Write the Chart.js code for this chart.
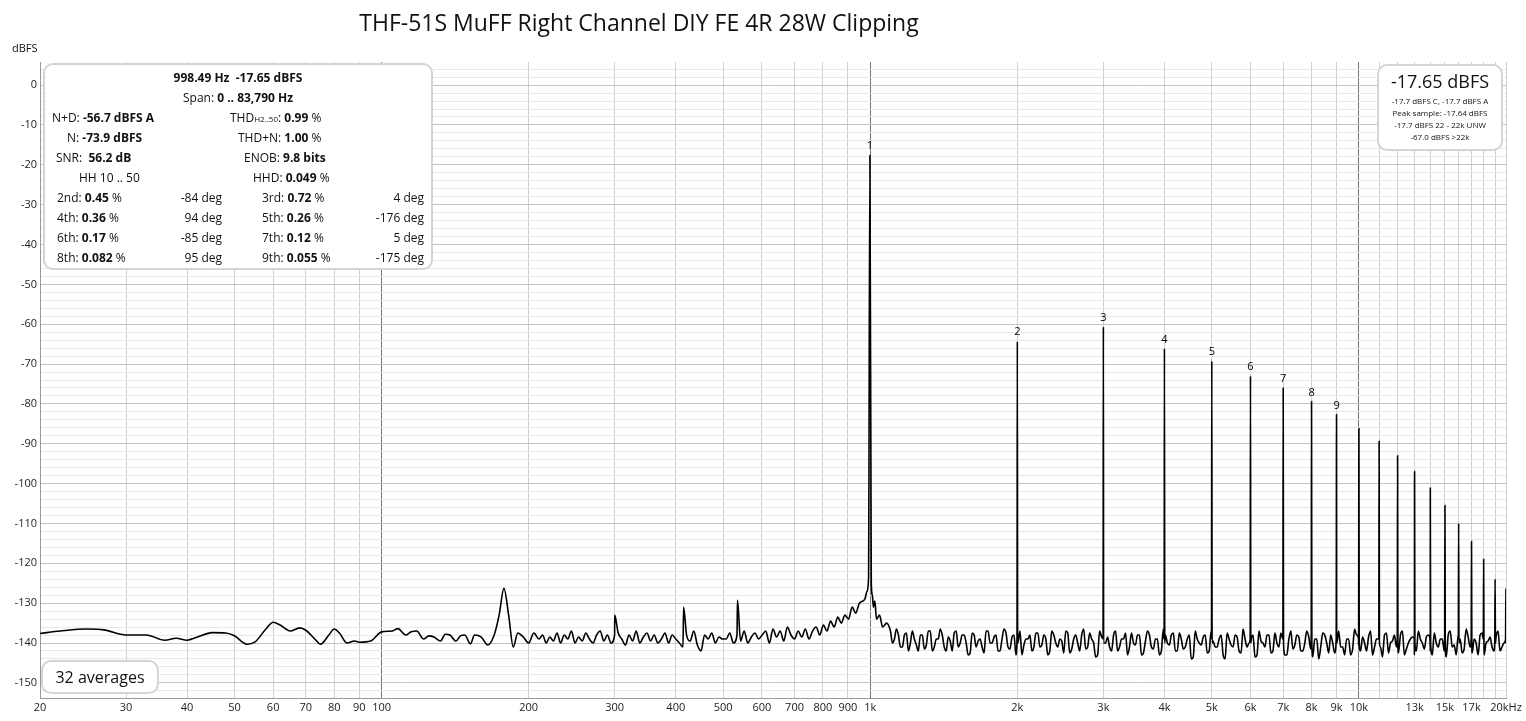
<!DOCTYPE html>
<html>
<head>
<meta charset="utf-8">
<script src="https://cdn.jsdelivr.net/npm/chart.js@4/dist/chart.umd.min.js"></script>
<style>
  body { margin: 0; background: #fff; font-family: "Open Sans", "Noto Sans", sans-serif; color: #111; }
  #wrap { position: relative; width: 1526px; height: 721px; }
  canvas { position: absolute; left: 0; top: 0; }
  .t { position: absolute; white-space: nowrap; font-size: 12px; line-height: 14px; }
  .box { position: absolute; background: #fff; border: 2px solid #d4d4d4; border-radius: 10px; }
  b { font-weight: 700; }
</style>
</head>
<body>
<div id="wrap">
  <canvas id="grafico" width="1526" height="721"></canvas>
  <div class="t" style="left:0;width:1278px;text-align:center;top:7px;font-size:23px;line-height:30px;">THF-51S MuFF Right Channel DIY FE 4R 28W Clipping</div>
  <div class="t" style="left:12px;top:41px;font-size:11px;">dBFS</div>

  <div class="box" style="left:43px;top:63px;width:386px;height:203px;">
    <div class="t" style="left:0;width:386px;text-align:center;top:6px;"><b>998.49 Hz&nbsp; -17.65 dBFS</b></div>
    <div class="t" style="left:0;width:386px;text-align:center;top:26px;">Span: <b>0 .. 83,790 Hz</b></div>
    <div class="t" style="left:7px;top:46px;">N+D: <b>-56.7 dBFS A</b></div>
    <div class="t" style="left:185px;top:46px;">THD<span style="font-size:8px">H2..50</span>: <b>0.99</b> %</div>
    <div class="t" style="left:22px;top:66px;">N: <b>-73.9 dBFS</b></div>
    <div class="t" style="left:193px;top:66px;">THD+N: <b>1.00</b> %</div>
    <div class="t" style="left:11px;top:86px;">SNR:&nbsp; <b>56.2 dB</b></div>
    <div class="t" style="left:199px;top:86px;">ENOB: <b>9.8 bits</b></div>
    <div class="t" style="left:34px;top:106px;">HH 10 .. 50</div>
    <div class="t" style="left:208px;top:106px;">HHD: <b>0.049</b> %</div>
    <div class="t" style="left:12px;top:126px;">2nd: <b>0.45</b> %</div>
    <div class="t" style="left:100px;width:77px;text-align:right;top:126px;">-84 deg</div>
    <div class="t" style="left:217px;top:126px;">3rd: <b>0.72</b> %</div>
    <div class="t" style="left:300px;width:79px;text-align:right;top:126px;">4 deg</div>
    <div class="t" style="left:12px;top:146px;">4th: <b>0.36</b> %</div>
    <div class="t" style="left:100px;width:77px;text-align:right;top:146px;">94 deg</div>
    <div class="t" style="left:217px;top:146px;">5th: <b>0.26</b> %</div>
    <div class="t" style="left:300px;width:79px;text-align:right;top:146px;">-176 deg</div>
    <div class="t" style="left:12px;top:166px;">6th: <b>0.17</b> %</div>
    <div class="t" style="left:100px;width:77px;text-align:right;top:166px;">-85 deg</div>
    <div class="t" style="left:217px;top:166px;">7th: <b>0.12</b> %</div>
    <div class="t" style="left:300px;width:79px;text-align:right;top:166px;">5 deg</div>
    <div class="t" style="left:12px;top:186px;">8th: <b>0.082</b> %</div>
    <div class="t" style="left:100px;width:77px;text-align:right;top:186px;">95 deg</div>
    <div class="t" style="left:217px;top:186px;">9th: <b>0.055</b> %</div>
    <div class="t" style="left:300px;width:79px;text-align:right;top:186px;">-175 deg</div>
  </div>

  <div class="box" style="left:1377px;top:64px;width:122px;height:83px;">
    <div class="t" style="left:0;width:122px;text-align:center;top:4px;font-size:18px;line-height:22px;">-17.65 dBFS</div>
    <div class="t" style="left:0;width:122px;text-align:center;top:29px;font-size:8px;line-height:12px;">-17.7 dBFS C, -17.7 dBFS A</div>
    <div class="t" style="left:0;width:122px;text-align:center;top:41px;font-size:8px;line-height:12px;">Peak sample: -17.64 dBFS</div>
    <div class="t" style="left:0;width:122px;text-align:center;top:53px;font-size:8px;line-height:12px;">-17.7 dBFS 22 - 22k UNW</div>
    <div class="t" style="left:0;width:122px;text-align:center;top:65px;font-size:8px;line-height:12px;">-67.0 dBFS &gt;22k</div>
  </div>

  <div class="box" style="left:41px;top:660px;width:114px;height:30px;">
    <div class="t" style="left:0;width:114px;text-align:center;top:6px;font-size:16px;line-height:18px;">32 averages</div>
  </div>
</div>
<script>
// Datos
const frecBajas = [20,22,25,27,30,33,36,38,40,42,45,48,50,53,55,58,60,62,65,68,70,73,75,78,80,82,85,88,90,95,100,105,108,112,115,118,122,125,128,132,135,138,142,145,148,152,155,160,165,170,174,178,182,186,190,195,200,205];
const nivelBajas = [-137.6,-137,-136.5,-136.7,-138,-138,-139.3,-138.8,-139.3,-138.5,-137.4,-137.5,-138.2,-140.3,-139.8,-136.5,-134.8,-135.5,-137,-136.2,-136.8,-139,-140.3,-138,-136.5,-137.5,-140,-139.5,-139.8,-139.5,-137.2,-137,-136.4,-138,-137.2,-137,-139,-138.2,-138.5,-139.5,-137.8,-138,-139.5,-138.2,-138,-140.2,-138,-138.5,-140.5,-138,-133,-126.3,-133,-141,-137.5,-138.5,-140,-137.5];

// Ruido entre 210 Hz y 950 Hz
const ruidoMedioInicio = 210, ruidoMedioFin = 950;
const ruidoMedio = [-139,-138,-140,-138.5,-139.5,-137.5,-140,-138,-139,-137,-140,-138.5,-139.5,-137.5,-139,-140,-138,-137,-139.5,-138,-140,-138,-137.5,-139,-140.5,-138,-139.5,-137,-140,-138.5,-137.5,-139.5,-138,-140,-139,-137.5,-140,-138,-139,-140,-141,-138,-139.5,-137,-140.5,-142,-138,-139,-137.5,-140,-138.5,-139,-139,-137.5,-140,-138,-139.5,-137,-140,-138.5,-137.5,-139,-138,-137,-140,-136.5,-138.5,-137,-139.5,-136,-138,-139,-137,-138.5,-136.5,-139,-137,-136,-138,-135.5,-137,-134.5,-136,-133.5,-135,-133,-134,-131,-132.5,-130];

// Espurias aisladas y faldón de la fundamental
const espuriasFrec = [300,415,535,975,985,992,1005,1010,1015,1022,1030,1045,1060,1080];
const espuriasNivel = [-133,-131,-129.3,-129,-127,-124,-125,-128,-131,-129.5,-134,-133,-136,-135];

// Ruido entre 1.1 kHz y 20 kHz (dos pasadas intercaladas)
const ruidoAltoInicio = 1100, ruidoAltoFin = 20000;
const ruidoAltoA = [-137,-139,-138,-141,-137.5,-140,-139,-142,-138,-140.5,-137,-141,-139,-138,-142,-139.5,-137.5,-141,-138,-140,-142.5,-138,-139.5,-141,-137,-140,-138.5,-142,-139,-137.5,-141.5,-138,-140,-143,-139,-138,-141,-137.5,-140.5,-139,-142,-138,-141,-139.5,-137,-142.5,-139,-140,-138,-141.5,-137.5,-140,-143,-138.5,-140,-141,-138,-142,-139,-137.5,-141,-140,-138,-143,-139.5,-138,-141.5,-139,-142,-138,-140.5,-137.5,-142,-139,-141,-138,-143.5,-139,-140.5,-138,-142,-139.5,-141,-138,-144,-139,-141,-138.5,-142.5,-139,-140,-138,-143,-139.5,-141,-138,-142,-140,-137.5,-143,-139,-141.5,-138,-142,-140,-138.5,-143.5,-139,-141,-138,-142.5,-140,-138,-141,-143,-139,-141.5,-138,-142,-140,-138.5,-143,-139,-141,-138,-142.5,-139.5,-141,-138,-143,-140,-138.5,-142,-139,-141.5,-138,-143,-140,-139,-142,-138,-141,-143,-139,-141.5,-138.5,-142.5,-140,-138,-143,-139.5,-141,-138.5,-142,-140,-139];
const ruidoAltoB = [-140,-136.5,-141,-138,-142,-137,-140.5,-138,-141.5,-137,-142,-139,-136.5,-141,-138.5,-142,-137,-140,-138,-143,-137.5,-141,-139,-142.5,-137,-140,-138,-142,-136.5,-141,-138.5,-143,-137,-140.5,-139,-142,-137.5,-141,-138,-143,-137,-140,-139,-142.5,-137.5,-141.5,-138,-142,-136.5,-141,-139,-143.5,-137,-140,-138.5,-142,-137,-141,-139,-143,-137.5,-140.5,-138,-142.5,-137,-141,-139,-143,-136.5,-140,-138,-142,-137.5,-141.5,-139,-144,-137,-140,-138.5,-142.5,-137,-141,-139,-143,-137.5,-140.5,-138,-142,-136.5,-141,-139.5,-143.5,-137,-140,-138,-142.5,-137.5,-141,-139,-143,-137,-140.5,-138.5,-142,-137,-141.5,-139,-144,-137.5,-140,-138,-142.5,-137,-141,-139,-143,-136.5,-140.5,-138.5,-142,-137,-141,-139,-143.5,-137.5,-140,-138,-142.5,-137,-141.5,-139,-143,-137,-140,-138.5,-142,-137.5,-141,-139,-143.5,-137,-140.5,-138,-142.5,-136.5,-141,-139,-143,-137.5,-140,-138.5,-142,-137,-141];

// Armónicos (frecuencia, nivel, etiqueta)
const armFrec = [998.49,2000,3000,4000,5000,6000,7000,8000,9000,10000,11000,12000,13000,14000,15000,16000,17000,18000,19000,19990];
const armNivel = [-17.6,-64.3,-60.6,-66.1,-69.2,-73,-76,-79.4,-82.7,-86.2,-89.4,-93,-97,-101,-105.5,-110,-114.5,-119,-124,-126.4];
const armEtiqueta = ['1','2','3','4','5','6','7','8','9'];

const ticksX = [20,30,40,50,60,70,80,90,100,200,300,400,500,600,700,800,900,1000,2000,3000,4000,5000,6000,7000,8000,9000,10000,11000,12000,13000,14000,15000,16000,17000,18000,19000,20000];
const etiquetasX = {20:'20',30:'30',40:'40',50:'50',60:'60',70:'70',80:'80',90:'90',100:'100',200:'200',300:'300',400:'400',500:'500',600:'600',700:'700',800:'800',900:'900',1000:'1k',2000:'2k',3000:'3k',4000:'4k',5000:'5k',6000:'6k',7000:'7k',8000:'8k',9000:'9k',10000:'10k',13000:'13k',15000:'15k',17000:'17k',20000:'20kHz'};

function construirSerie() {
    const puntos = [];
    frecBajas.forEach((f, i) => puntos.push({ x: f, y: nivelBajas[i] }));
    const paso1 = Math.log(ruidoMedioFin / ruidoMedioInicio) / (ruidoMedio.length - 1);
    ruidoMedio.forEach((v, i) => puntos.push({ x: ruidoMedioInicio * Math.exp(paso1 * i), y: v }));
    espuriasFrec.forEach((f, i) => puntos.push({ x: f, y: espuriasNivel[i] }));
    // intercalar las dos pasadas de ruido alto
    const ruidoAlto = [];
    ruidoAltoA.forEach((v, i) => { ruidoAlto.push(v); if (i < ruidoAltoB.length) ruidoAlto.push(ruidoAltoB[i]); });
    const paso2 = Math.log(ruidoAltoFin / ruidoAltoInicio) / (ruidoAlto.length - 1);
    ruidoAlto.forEach((v, i) => puntos.push({ x: ruidoAltoInicio * Math.exp(paso2 * i), y: v }));
    armFrec.forEach((f, i) => {
        puntos.push({ x: f, y: armNivel[i] });
        if (i > 0) {
            puntos.push({ x: f * 0.9985, y: -139 });
            puntos.push({ x: f * 1.0015, y: -140 });
        }
    });
    puntos.sort((a, b) => a.x - b.x);
    return puntos;
}

// Etiquetas numéricas sobre los armónicos
const pluginEtiquetas = {
    id: 'etiquetasArm',
    afterDatasetsDraw(chart) {
        const ctx = chart.ctx;
        ctx.save();
        ctx.font = '11px "Open Sans", sans-serif';
        ctx.fillStyle = '#000';
        ctx.textAlign = 'center';
        armEtiqueta.forEach((t, i) => {
            const x = chart.scales.x.getPixelForValue(armFrec[i]);
            const y = chart.scales.y.getPixelForValue(armNivel[i]);
            ctx.fillText(t, x, y - 6);
        });
        ctx.restore();
    }
};

new Chart(document.getElementById('grafico').getContext('2d'), {
    type: 'line',
    data: {
        datasets: [{
            data: construirSerie(),
            borderColor: '#000',
            borderWidth: 1.6,
            pointRadius: 0,
            cubicInterpolationMode: 'monotone'
        }]
    },
    options: {
        responsive: false,
        animation: false,
        parsing: false,
        layout: { padding: { top: 62, right: 20, left: 0, bottom: 0 } },
        plugins: { legend: { display: false }, tooltip: { enabled: false } },
        scales: {
            x: {
                type: 'logarithmic',
                min: 20, max: 20000,
                afterBuildTicks: s => { s.ticks = ticksX.map(v => ({ value: v })); },
                afterFit: s => { s.height = 23; },
                ticks: {
                    autoSkip: false, maxRotation: 0,
                    font: { size: 11, family: '"Open Sans", sans-serif' }, color: '#222',
                    callback: v => etiquetasX[v] || ''
                },
                grid: {
                    color: c => [100, 1000, 10000].includes(c.tick && c.tick.value) ? '#777' : '#d0d0d0',
                    drawTicks: false
                },
                border: { color: '#999' }
            },
            y: {
                min: -153.8, max: 5.8,
                afterBuildTicks: s => {
                    const t = [];
                    for (let v = 4; v >= -152; v -= 2) t.push({ value: v });
                    s.ticks = t;
                },
                afterFit: s => { s.width = 40; },
                ticks: {
                    autoSkip: false,
                    font: { size: 11, family: '"Open Sans", sans-serif' }, color: '#222',
                    callback: v => (v % 10 === 0 ? String(v) : '')
                },
                grid: {
                    color: c => (c.tick && c.tick.value % 10 === 0) ? '#c4c4c4' : '#e8e8e8',
                    drawTicks: false
                },
                border: { color: '#999' }
            }
        }
    },
    plugins: [pluginEtiquetas]
});
</script>
</body>
</html>
